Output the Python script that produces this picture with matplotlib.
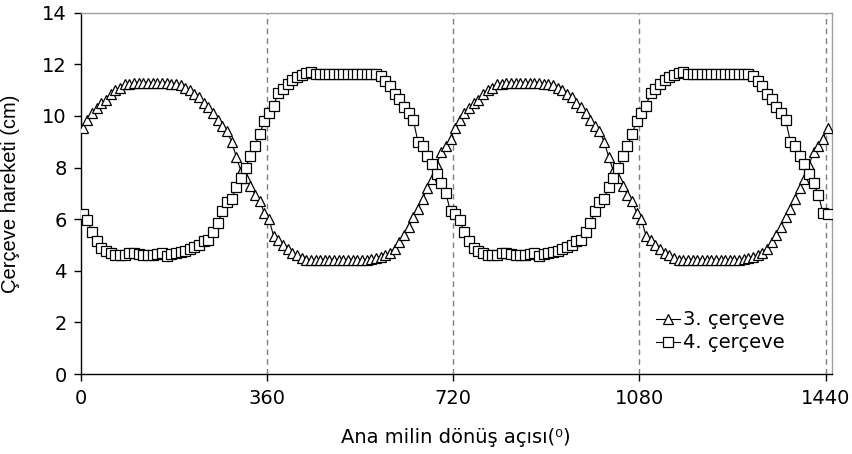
import matplotlib
matplotlib.use("Agg")
import matplotlib.pyplot as plt
import numpy as np

plt.rcParams['font.family'] = ['DejaVu Sans']

# rotation angle (degrees), 9-degree steps
angles = [4 + 9 * i for i in range(161)]

# 3. çerçeve (triangles)
tri_cycle1 = [9.55, 9.85, 10.1, 10.3, 10.5, 10.6, 10.85, 11.0, 11.1, 11.22,
              11.25, 11.26, 11.26, 11.26, 11.26, 11.26, 11.26, 11.26, 11.26, 11.25,
              11.24, 11.2, 11.1, 11.0, 10.85, 10.72, 10.5, 10.35, 10.1, 9.85,
              9.6, 9.4, 9.0, 8.4, 7.85, 7.6, 7.3, 6.95, 6.7, 6.25,
              6.0, 5.35, 5.2, 5.0, 4.85, 4.7, 4.6, 4.5, 4.43, 4.42,
              4.42, 4.42, 4.42, 4.42, 4.42, 4.42, 4.42, 4.42, 4.42, 4.42,
              4.42, 4.43, 4.45, 4.5, 4.55, 4.62, 4.7, 4.85, 5.1, 5.4,
              5.7, 6.1, 6.4, 6.8, 7.2, 7.55, 8.1, 8.6, 8.85, 9.1]
tri_cycle2 = [9.55, 9.85, 10.1, 10.3, 10.5, 10.6, 10.85, 11.0, 11.1, 11.22,
              11.25, 11.26, 11.26, 11.26, 11.26, 11.26, 11.26, 11.26, 11.26, 11.25,
              11.24, 11.2, 11.1, 11.0, 10.85, 10.72, 10.5, 10.35, 10.1, 9.85,
              9.6, 9.4, 9.0, 8.4, 7.85, 7.6, 7.3, 6.95, 6.7, 6.25,
              6.0, 5.35, 5.2, 5.0, 4.85, 4.7, 4.6, 4.5, 4.43, 4.42,
              4.42, 4.42, 4.42, 4.42, 4.42, 4.42, 4.42, 4.42, 4.42, 4.42,
              4.42, 4.43, 4.45, 4.5, 4.55, 4.62, 4.7, 4.85, 5.1, 5.4,
              5.7, 6.1, 6.4, 6.8, 7.2, 7.55, 8.1, 8.6, 8.85, 9.1, 9.55]
cerceve3 = tri_cycle1 + tri_cycle2

# 4. çerçeve (squares)
sq_cycle1 = [6.2, 5.95, 5.5, 5.15, 4.9, 4.75, 4.68, 4.62, 4.6, 4.62,
             4.68, 4.68, 4.65, 4.62, 4.6, 4.63, 4.66, 4.68, 4.57, 4.66,
             4.7, 4.72, 4.78, 4.85, 4.92, 5.0, 5.15, 5.2, 5.5, 5.85,
             6.3, 6.65, 6.8, 7.25, 7.6, 8.0, 8.45, 8.85, 9.3, 9.8,
             10.1, 10.4, 10.9, 11.05, 11.25, 11.4, 11.5, 11.6, 11.65, 11.7,
             11.63, 11.63, 11.63, 11.63, 11.63, 11.63, 11.63, 11.63, 11.63, 11.63,
             11.63, 11.63, 11.63, 11.62, 11.55, 11.35, 11.15, 10.85, 10.65, 10.35,
             10.1, 9.85, 9.0, 8.82, 8.45, 8.15, 7.75, 7.4, 7.0, 6.3]
sq_cycle2 = [6.2, 5.95, 5.5, 5.15, 4.9, 4.75, 4.68, 4.62, 4.6, 4.62,
             4.68, 4.68, 4.65, 4.62, 4.6, 4.63, 4.66, 4.68, 4.57, 4.66,
             4.7, 4.72, 4.78, 4.85, 4.92, 5.0, 5.15, 5.2, 5.5, 5.85,
             6.3, 6.65, 6.8, 7.25, 7.6, 8.0, 8.45, 8.85, 9.3, 9.8,
             10.1, 10.4, 10.9, 11.05, 11.25, 11.4, 11.5, 11.6, 11.65, 11.7,
             11.63, 11.63, 11.63, 11.63, 11.63, 11.63, 11.63, 11.63, 11.63, 11.63,
             11.63, 11.63, 11.63, 11.62, 11.55, 11.35, 11.15, 10.85, 10.65, 10.35,
             10.1, 9.85, 9.0, 8.82, 8.45, 8.15, 7.75, 7.4, 6.95, 6.25, 6.2]
cerceve4 = sq_cycle1 + sq_cycle2

x_ticks = [0, 360, 720, 1080, 1440]
y_ticks = [0, 2, 4, 6, 8, 10, 12, 14]
series_labels = ["3. çerçeve", "4. çerçeve"]

fs = 14

fig = plt.figure(figsize=(8.52, 4.54), dpi=100)
ax = fig.add_axes([0.0947, 0.1762, 0.9762 - 0.0947, 0.972 - 0.1762])

for xv in x_ticks[1:]:
    ax.axvline(xv, color='#7f7f7f', lw=1.0, ls=(0, (4, 3)), zorder=1)

ax.plot(angles, cerceve3, color='black', lw=0.8, marker='^', ms=7.5,
        mfc='white', mec='black', mew=0.9, label=series_labels[0], zorder=3)
ax.plot(angles, cerceve4, color='black', lw=0.8, marker='s', ms=7,
        mfc='white', mec='black', mew=0.9, label=series_labels[1], zorder=3)

ax.set_xlim(0, 1452)
ax.set_ylim(0, 14)
ax.set_xticks(x_ticks)
ax.set_yticks(y_ticks)
ax.tick_params(axis='both', direction='out', length=5, width=1, labelsize=fs,
               colors='black')
ax.tick_params(axis='x', pad=6)
ax.tick_params(axis='y', pad=5)

for s in ['left', 'bottom']:
    ax.spines[s].set_color('black')
    ax.spines[s].set_linewidth(1.0)
for s in ['top', 'right']:
    ax.spines[s].set_color('#a0a0a0')
    ax.spines[s].set_linewidth(1.0)

ax.set_xlabel('Ana milin dönüş açısı(⁰)', fontsize=fs)
ax.set_ylabel('Çerçeve hareketi (cm)', fontsize=14.5,
              family=['Liberation Sans', 'DejaVu Sans'])
ax.xaxis.set_label_coords(0.5, -0.149)
ax.yaxis.set_label_coords(-0.081, 0.5)

leg = ax.legend(loc='center left', bbox_to_anchor=(0.766, 0.118), frameon=False,
                fontsize=fs, handlelength=1.25, handletextpad=0.15,
                labelspacing=0.2, borderpad=0, borderaxespad=0)

fig.savefig('out.png', dpi=100)
